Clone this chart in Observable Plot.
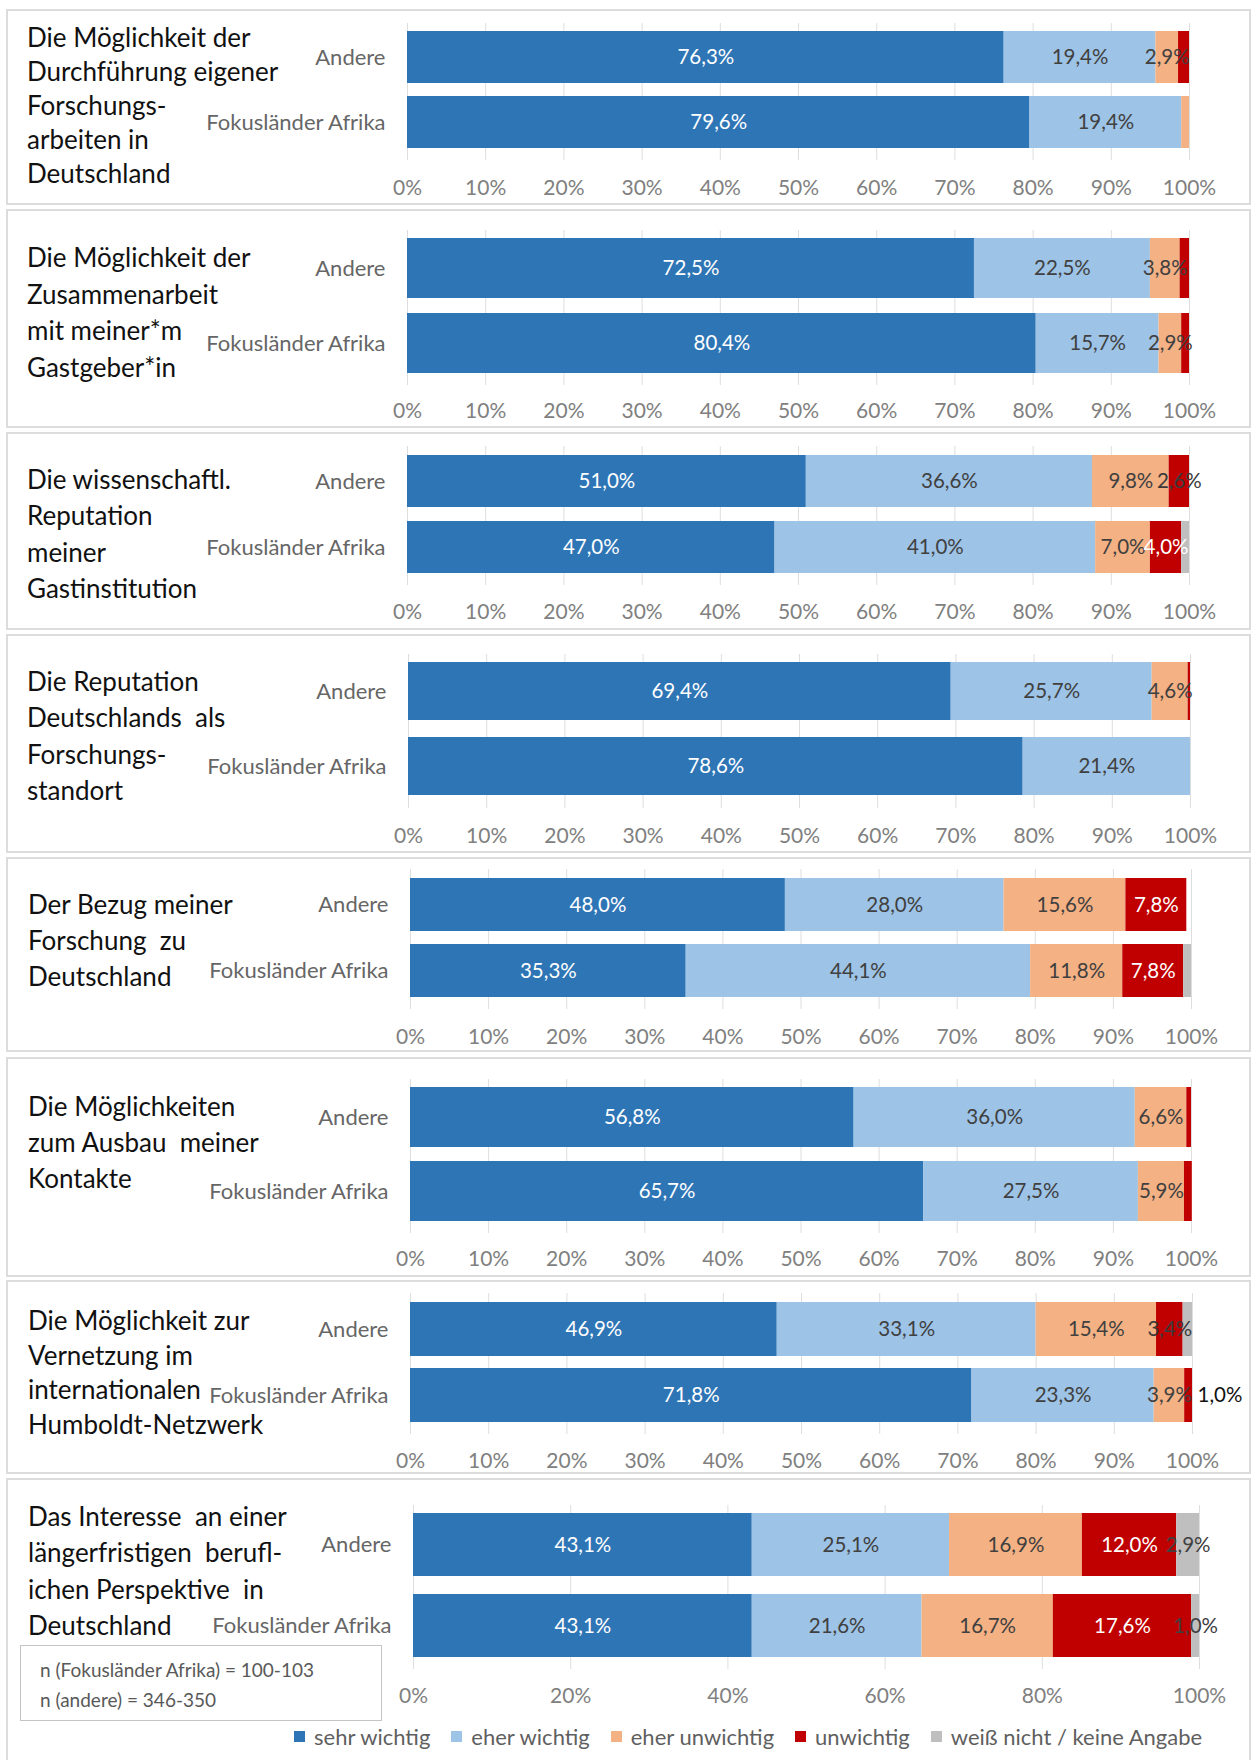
<!DOCTYPE html>
<html>
<head>
<meta charset="utf-8">
<script src="https://cdn.jsdelivr.net/npm/d3@7"></script>
<script src="https://cdn.jsdelivr.net/npm/@observablehq/plot@0.6"></script>
<style>
  html, body { margin: 0; padding: 0; background: #fff; }
  #root { position: relative; width: 1253px; height: 1760px; overflow: hidden; font-family: Lato, "Open Sans", sans-serif; }
  .box { position: absolute; left: 6px; width: 1245px; border: 2px solid #dcdcdc; box-sizing: border-box; }
  .title { position: absolute; font-size: 26px; color: #111; white-space: pre; line-height: 1; }
  .plotwrap { position: absolute; left: 0; }
  .note { position: absolute; left: 20px; top: 1645px; width: 362px; height: 76px; box-sizing: border-box;
          border: 1.5px solid #c4c4c4; background: #fff; padding: 9px 0 0 19px; font-size: 19px; line-height: 30px; color: #595959; }
  .legendwrap { position: absolute; left: 294px; top: 1720px; }
  .lg-swatch { margin-right: 21px !important; }
  .lg-swatch > svg { margin-right: 9px !important; }
</style>
</head>
<body>
<div id="root"></div>
<script>
// ---------- data ----------
const categories = ["sehr wichtig", "eher wichtig", "eher unwichtig", "unwichtig", "weiß nicht / keine Angabe"];
const colors = ["#2E75B6", "#9DC3E6", "#F4B183", "#C00000", "#BFBFBF"];
const groups = ["Andere", "Fokusländer Afrika"];

const titles = [
  ["Die Möglichkeit der", "Durchführung eigener", "Forschungs-", "arbeiten in", "Deutschland"],
  ["Die Möglichkeit der", "Zusammenarbeit", "mit meiner*m", "Gastgeber*in"],
  ["Die wissenschaftl.", "Reputation", "meiner", "Gastinstitution"],
  ["Die Reputation", "Deutschlands  als", "Forschungs-", "standort"],
  ["Der Bezug meiner", "Forschung  zu", "Deutschland"],
  ["Die Möglichkeiten", "zum Ausbau  meiner", "Kontakte"],
  ["Die Möglichkeit zur", "Vernetzung im", "internationalen", "Humboldt-Netzwerk"],
  ["Das Interesse  an einer", "längerfristigen  berufl-", "ichen Perspektive  in", "Deutschland"]
];

// values per panel: [sehr wichtig, eher wichtig, eher unwichtig, unwichtig, weiß nicht]
const andere = [
  [76.3, 19.4, 2.9, 1.4, 0],
  [72.5, 22.5, 3.8, 1.2, 0],
  [51.0, 36.6, 9.8, 2.6, 0],
  [69.4, 25.7, 4.6, 0.3, 0],
  [48.0, 28.0, 15.6, 7.8, 0],
  [56.8, 36.0, 6.6, 0.6, 0],
  [46.9, 33.1, 15.4, 3.4, 1.2],
  [43.1, 25.1, 16.9, 12.0, 2.9]
];
const fokus = [
  [79.6, 19.4, 1.0, 0, 0],
  [80.4, 15.7, 2.9, 1.0, 0],
  [47.0, 41.0, 7.0, 4.0, 1.0],
  [78.6, 21.4, 0, 0, 0],
  [35.3, 44.1, 11.8, 7.8, 1.0],
  [65.7, 27.5, 5.9, 1.0, 0],
  [71.8, 23.3, 3.9, 1.0, 0],
  [43.1, 21.6, 16.7, 17.6, 1.0]
];

const ticksFine = [0, 10, 20, 30, 40, 50, 60, 70, 80, 90, 100];
const ticksCoarse = [0, 20, 40, 60, 80, 100];

// small values that still carry a label
const extraCenterLabels = [{panel: 7, group: "Fokusländer Afrika", cat: "weiß nicht / keine Angabe"}];
const outsideLabels = [{panel: 6, group: "Fokusländer Afrika", cat: "unwichtig"}];

const noteLines = ["n (Fokusländer Afrika) = 100-103", "n (andere) = 346-350"];

// ---------- layout (page pixels) ----------
const layout = [
  {box: [9, 205],    bars: [31, 83, 96, 148],      frame: [23, 160],    axisY: 187,  x: [407, 1189], t0: 37,   lh: 34,   tx: 27},
  {box: [209, 428],  bars: [238, 297, 313, 373],   frame: [230, 385],   axisY: 410,  x: [407, 1189], t0: 257,  lh: 36.5, tx: 27},
  {box: [432, 630],  bars: [454, 507, 521, 573],   frame: [446, 585],   axisY: 611,  x: [407, 1189], t0: 479,  lh: 36.3, tx: 27},
  {box: [634, 853],  bars: [662, 722, 738, 796],   frame: [654, 808],   axisY: 835,  x: [408, 1190], t0: 681,  lh: 36.3, tx: 27},
  {box: [857, 1052], bars: [877, 931, 944, 997],   frame: [869, 1009],  axisY: 1036, x: [410, 1191], t0: 904,  lh: 36,   tx: 28},
  {box: [1057, 1277],bars: [1087, 1146, 1161, 1221], frame: [1079, 1233], axisY: 1258, x: [410, 1191], t0: 1106, lh: 36, tx: 28},
  {box: [1280, 1474],bars: [1301, 1353, 1367, 1422], frame: [1293, 1434], axisY: 1460, x: [410, 1192], t0: 1320, lh: 34.7, tx: 28},
  {box: [1478, 1764],bars: [1513, 1578, 1595, 1657], frame: [1505, 1669], axisY: 1695, x: [413, 1199], t0: 1516, lh: 36.3, tx: 28, coarse: true}
];

const W = 1253;
const root = document.getElementById("root");
const fmt = v => d3.format(".1f")(v).replace(".", ",") + "%";

function labelFill(cat, v) {
  if (cat === "sehr wichtig") return "#ffffff";
  if (cat === "unwichtig") return v >= 4 ? "#ffffff" : "#3a3a3a";
  return "#404040";
}

layout.forEach((L, i) => {
  const [bt, bb] = L.box;
  const H = bb - bt;
  const box = document.createElement("div");
  box.className = "box";
  box.style.top = bt + "px";
  box.style.height = H + "px";
  root.appendChild(box);

  const rows = [];
  groups.forEach((g, gi) => {
    const vals = gi === 0 ? andere[i] : fokus[i];
    categories.forEach((c, ci) => {
      const v = vals[ci];
      const show = v >= 2.5 || extraCenterLabels.some(e => e.panel === i && e.group === g && e.cat === c);
      rows.push({group: g, cat: c, value: v, show, total: d3.sum(vals)});
    });
  });
  const outs = rows.filter(r => outsideLabels.some(e => e.panel === i && e.group === r.group && e.cat === r.cat));

  const [a, b, c, d] = L.bars;
  const step = c - a;
  const bw = ((b - a) + (d - c)) / 2;
  const ticks = L.coarse ? ticksCoarse : ticksFine;
  const axisFs = 21;

  const chart = Plot.plot({
    width: W,
    height: H,
    marginLeft: L.x[0],
    marginRight: W - L.x[1],
    marginTop: L.frame[0] - bt,
    marginBottom: bb - L.frame[1],
    style: {fontFamily: "Lato, 'Open Sans', sans-serif", background: "transparent", overflow: "visible"},
    x: {domain: [0, 100], label: null},
    y: {domain: groups, range: [a - bt, d - bt], paddingInner: 1 - bw / step, paddingOuter: 0, label: null},
    color: {domain: categories, range: colors},
    marks: [
      Plot.gridX(ticks, {stroke: "#dedede", strokeOpacity: 1, strokeWidth: 1}),
      Plot.barX(rows, Plot.stackX({x: "value", y: "group", z: "cat", fill: "cat"})),
      Plot.text(rows, Plot.stackX({
        x: "value", y: "group", z: "cat",
        text: r => r.show ? fmt(r.value) : "",
        fill: r => labelFill(r.cat, r.value),
        fontSize: 20.5
      })),
      Plot.text(outs, {x: "total", y: "group", text: r => fmt(r.value), textAnchor: "start", dx: 5, fill: "#111", fontSize: 20.5}),
      Plot.axisX({ticks, tickSize: 0, tickPadding: L.axisY - L.frame[1] - 0.36 * axisFs,
                  tickFormat: t => t + "%", fontSize: axisFs, color: "#808080", label: null}),
      Plot.axisY({tickSize: 0, tickPadding: 22, fontSize: 22, color: "#666666", label: null})
    ]
  });
  const wrap = document.createElement("div");
  wrap.className = "plotwrap";
  wrap.style.top = bt + "px";
  wrap.appendChild(chart);
  root.appendChild(wrap);

  titles[i].forEach((line, li) => {
    const t = document.createElement("div");
    t.className = "title";
    t.textContent = line;
    t.style.left = L.tx + "px";
    t.style.top = (L.t0 + li * L.lh - 13) + "px";
    root.appendChild(t);
  });
});

// note box
const note = document.createElement("div");
note.className = "note";
note.innerHTML = noteLines.map(s => `<div>${s}</div>`).join("");
root.appendChild(note);

// legend
const lgWrap = document.createElement("div");
lgWrap.className = "legendwrap";
lgWrap.appendChild(Plot.legend({
  color: {type: "ordinal", domain: categories, range: colors},
  swatchSize: 11,
  className: "lg",
  style: {fontFamily: "Lato, 'Open Sans', sans-serif", fontSize: "22px", color: "#5f5f5f", background: "transparent"}
}));
root.appendChild(lgWrap);
</script>
</body>
</html>
